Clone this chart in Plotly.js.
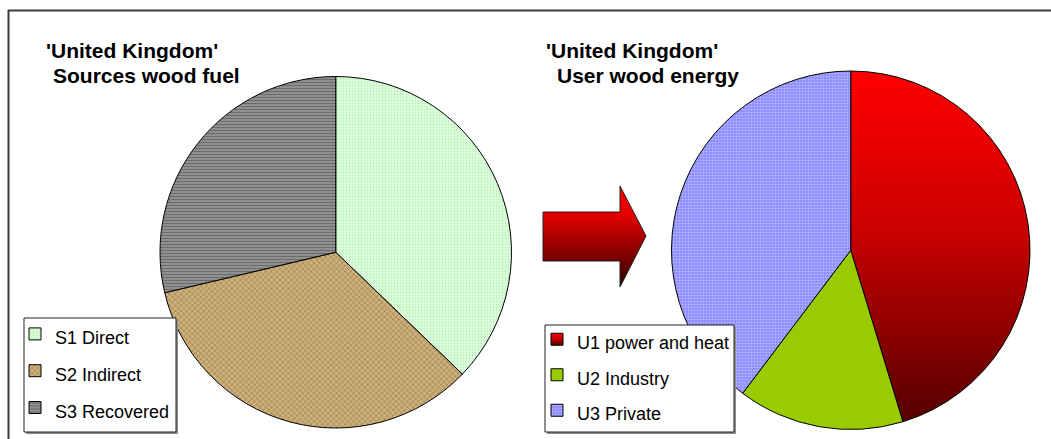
<!DOCTYPE html>
<html>
<head>
<meta charset="utf-8">
<script src="https://cdn.plot.ly/plotly-3.0.1.min.js"></script>
<style>
    body { margin: 0; background: #ffffff; }
    #chart { width: 1051px; height: 439px; }
</style>
</head>
<body>
<div id="chart"></div>
<script>
// data (shares, %)
const sourceLabels = ['S1 Direct', 'S2 Indirect', 'S3 Recovered'];
const sourceValues = [37.2, 34.1, 28.7];
const userLabels = ['U1 power and heat', 'U2 Industry', 'U3 Private'];
const userValues = [45.3, 15.0, 39.7];
const titleLine1 = "'United Kingdom'";
const sourceTitle = 'Sources wood fuel';
const userTitle = 'User wood energy';

const W = 1051, H = 439;
const FONT = 'Arial, "Liberation Sans", sans-serif';

// pixel -> paper helpers (margins are 0)
function px(x) { return x / W; }
function py(y) { return 1 - y / H; }

// legend labels a bit smaller than the legend font so rows get more air
function small(label) {
    return '<span style="font-size:18px">' + label + '</span>';
}

const sourcePie = {
    type: 'pie',
    labels: sourceLabels.map(small),
    values: sourceValues,
    sort: false,
    direction: 'clockwise',
    rotation: 0,
    textinfo: 'none',
    hoverinfo: 'label+percent',
    domain: { x: [px(160), px(511.5)], y: [py(428), py(76.5)] },
    legend: 'legend',
    marker: {
        colors: ['#d8ffd8', '#c4a46c', '#777777'],
        line: { color: '#000000', width: 1 },
        pattern: {
            shape: ['.', 'x', '-'],
            bgcolor: ['#e8ffe8', '#cdb07a', '#a8a8a8'],
            fgcolor: ['#8ee88e', '#86663a', '#2e2e2e'],
            size: [3, 4, 3],
            solidity: [0.45, 0.4, 0.6],
            fillmode: 'overlay'
        }
    }
};

const userPie = {
    type: 'pie',
    labels: userLabels.map(small),
    values: userValues,
    sort: false,
    direction: 'clockwise',
    rotation: 0,
    textinfo: 'none',
    hoverinfo: 'label+percent',
    domain: { x: [px(671.5), px(1030)], y: [py(429.5), py(71)] },
    legend: 'legend2',
    marker: {
        colors: ['#c00000', '#99cc00', '#9c9cff'],
        line: { color: '#000000', width: 1 },
        pattern: {
            shape: ['', '', '.'],
            bgcolor: ['', '', '#8a8aff'],
            fgcolor: ['', '', '#e4e4ff'],
            size: [3, 3, 3],
            solidity: [0.3, 0.3, 0.4],
            fillmode: 'overlay'
        }
    }
};

function title(text, x, y) {
    return {
        text: text, xref: 'paper', yref: 'paper',
        x: px(x), y: py(y), xanchor: 'left', yanchor: 'middle',
        showarrow: false,
        font: { family: FONT, size: 21, color: '#000000', weight: 'bold' }
    };
}

function box(x0, y0, x1, y1) {
    return [
        { type: 'rect', xref: 'paper', yref: 'paper', layer: 'above',
          x0: px(x0 + 2), y0: py(y0 + 2), x1: px(x1 + 2), y1: py(y1 + 2),
          fillcolor: '#8c8c8c', line: { width: 0 } },
        { type: 'rect', xref: 'paper', yref: 'paper', layer: 'above',
          x0: px(x0), y0: py(y0), x1: px(x1), y1: py(y1),
          fillcolor: '#ffffff', line: { color: '#222222', width: 1 } }
    ];
}

// arrow between the two pies
const arrowPts = [[543, 212], [620, 212], [620, 186], [646, 236], [620, 287], [620, 261], [543, 261]];
const arrowPath = 'M' + arrowPts.map(p => px(p[0]) + ',' + py(p[1])).join(' L') + ' Z';

const shapes = [
    { type: 'line', xref: 'paper', yref: 'paper', x0: px(8), y0: py(10.5), x1: 1, y1: py(10.5),
      line: { color: '#3a3a3a', width: 2 } },
    { type: 'line', xref: 'paper', yref: 'paper', x0: px(8.5), y0: py(10), x1: px(8.5), y1: 0,
      line: { color: '#3a3a3a', width: 2 } }
].concat(box(24, 318, 176, 432), box(545, 325, 734, 432), [
    { type: 'path', xref: 'paper', yref: 'paper', layer: 'above', path: arrowPath,
      fillcolor: '#c00000', line: { color: '#222222', width: 1 } }
]);
const ARROW_INDEX = shapes.length - 1;

const layout = {
    width: W,
    height: H,
    margin: { l: 0, r: 0, t: 0, b: 0 },
    paper_bgcolor: '#ffffff',
    font: { family: FONT, color: '#000000' },
    showlegend: true,
    legend: {
        x: px(15), y: py(310.5), xanchor: 'left', yanchor: 'top',
        bgcolor: 'rgba(0,0,0,0)', borderwidth: 0,
        font: { family: FONT, size: 26, color: '#000000' }
    },
    legend2: {
        x: px(537), y: py(316.5), xanchor: 'left', yanchor: 'top',
        bgcolor: 'rgba(0,0,0,0)', borderwidth: 0,
        font: { family: FONT, size: 25, color: '#000000' }
    },
    annotations: [
        title(titleLine1, 44, 50),
        title(sourceTitle, 51, 75.5),
        title(titleLine1, 544, 50),
        title(userTitle, 555, 75.5)
    ],
    shapes: shapes
};

function addGradient(svg, id, stops) {
    const ns = 'http://www.w3.org/2000/svg';
    let defs = svg.querySelector('defs');
    if (!defs) {
        defs = document.createElementNS(ns, 'defs');
        svg.insertBefore(defs, svg.firstChild);
    }
    const grad = document.createElementNS(ns, 'linearGradient');
    grad.setAttribute('id', id);
    grad.setAttribute('x1', '0'); grad.setAttribute('y1', '0');
    grad.setAttribute('x2', '0'); grad.setAttribute('y2', '1');
    stops.forEach(function (s) {
        const stop = document.createElementNS(ns, 'stop');
        stop.setAttribute('offset', s[0]);
        stop.setAttribute('stop-color', s[1]);
        grad.appendChild(stop);
    });
    defs.appendChild(grad);
}

Plotly.newPlot('chart', [sourcePie, userPie], layout, { staticPlot: true }).then(function (gd) {
    const svgs = gd.querySelectorAll('svg.main-svg');
    svgs.forEach(function (svg, i) {
        addGradient(svg, 'redSlice' + i, [[0, '#ff0000'], [0.45, '#cc0000'], [1, '#550000']]);
        addGradient(svg, 'redArrow' + i, [[0, '#ff0000'], [0.3, '#e00000'], [0.75, '#700000'], [1, '#220000']]);
    });

    // power and heat slice: red fading to dark red
    const traces = gd.querySelectorAll('.pielayer .trace');
    if (traces[1]) {
        const slice = traces[1].querySelector('.slice path.surface');
        if (slice) slice.style.fill = 'url(#redSlice0)';
    }
    // same shading for its legend swatch
    const leg2 = gd.querySelector('.legend2 .traces .legendpoints path');
    if (leg2) {
        const owner = leg2.ownerSVGElement;
        const idx = Array.prototype.indexOf.call(svgs, owner);
        leg2.style.fill = 'url(#redSlice' + idx + ')';
    }
    const arrow = gd.querySelector('.shapelayer path[data-index="' + ARROW_INDEX + '"]');
    if (arrow) {
        const idx = Array.prototype.indexOf.call(svgs, arrow.ownerSVGElement);
        arrow.style.fill = 'url(#redArrow' + idx + ')';
    }
});
</script>
</body>
</html>
